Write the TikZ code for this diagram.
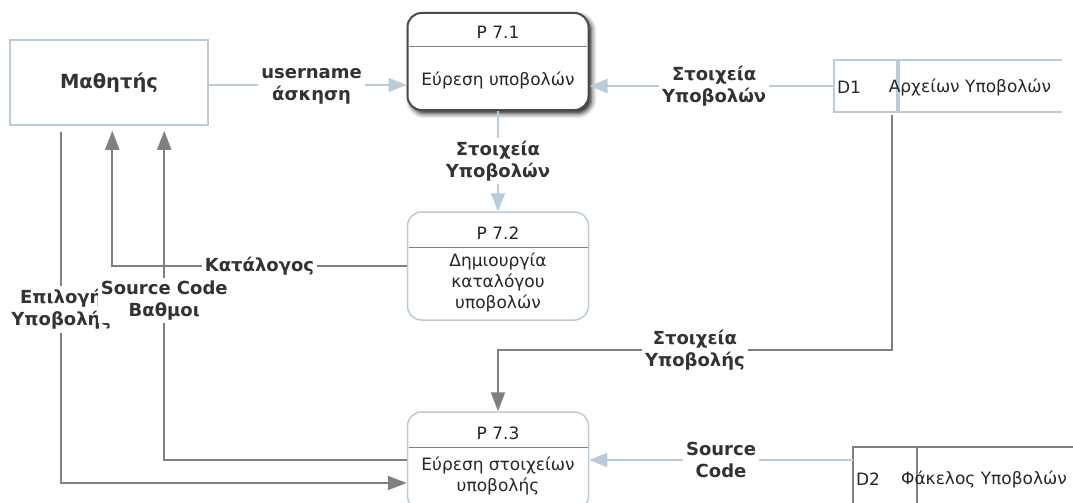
\documentclass[tikz,border=0pt]{standalone}
\usepackage{fontspec}
\setmainfont{DejaVu Sans}
\usetikzlibrary{arrows.meta,shadows.blur}
\definecolor{flowblue}{HTML}{BACBDA}
\definecolor{flowgray}{HTML}{808080}
\definecolor{procdark}{HTML}{4A4A4A}
\definecolor{inkdark}{HTML}{333333}
\begin{document}
\begin{tikzpicture}[x=1pt,y=-1pt,
  every node/.style={text=inkdark},
  plain/.style={font=\fontsize{17}{21}\selectfont, align=center, inner sep=0pt, text=black!85},
  entity/.style={draw=flowblue, line width=1.5pt, minimum width=198pt, minimum height=85pt,
    font=\bfseries\fontsize{19.5}{22}\selectfont},
  procbox/.style={draw=flowblue, line width=1.5pt, rounded corners=14pt, fill=white,
    minimum width=181pt, inner sep=0pt},
  divider/.style={draw=flowgray, line width=1pt},
  lbl/.style={fill=white, font=\bfseries\fontsize{18}{22}\selectfont, align=center, inner sep=3pt},
  bluearrow/.style={draw=flowblue, line width=2pt, -{Triangle[length=18pt,width=14pt]}},
  grayarrow/.style={draw=flowgray, line width=2pt, -{Triangle[length=19pt,width=14pt]}}
]
\useasboundingbox (0,0) rectangle (1073,503);
\clip (0,0) rectangle (1073,503);

% external entity
\node[entity] (m) at (109,82.5) {Μαθητής};

% process P 7.1 (with drop shadow)
\node[procbox, draw=procdark, line width=2pt, minimum height=97pt,
  blur shadow={shadow xshift=3pt, shadow yshift=-3.5pt, shadow blur radius=5pt, shadow opacity=90}]
  (p1) at (498,61.5) {};
\draw[divider] (409,47) -- (587,47);
\node[plain] (p1t) at (498,32) {P 7.1};
\node[plain] (p1b) at (498,80) {Εύρεση υποβολών};

% process P 7.2
\node[procbox, minimum height=108pt] (p2) at (498,266) {};
\draw[divider] (408.5,247) -- (587.5,247);
\node[plain] (p2t) at (498,233) {P 7.2};
\node[plain] (p2b) at (498,282) {Δημιουργία\\καταλόγου\\υποβολών};

% process P 7.3
\node[procbox, minimum height=98pt] (p3) at (498,461) {};
\draw[divider] (408.5,447) -- (587.5,447);
\node[plain] (p3t) at (498,433) {P 7.3};
\node[plain] (p3b) at (498,476) {Εύρεση στοιχείων\\υποβολής};

% data store D1
\node[minimum width=228pt, minimum height=52pt, inner sep=0pt] (d1) at (948,86) {};
\draw[flowblue, line width=1.5pt] (d1.north east) -- (d1.north west) -- (d1.south west) -- (d1.south east);
\draw[flowblue, line width=3.5pt] (898,60) -- (898,112);
\node[plain] (d1id) at (849,87) {D1};
\node[plain] (d1n) at (970,87) {Αρχείων Υποβολών};

% data store D2
\node[minimum width=240pt, minimum height=66pt, inner sep=0pt] (d2) at (973,480) {};
\draw[flowgray, line width=1.5pt] (d2.north east) -- (d2.north west) -- (d2.south west);
\draw[flowgray, line width=1.5pt] (917,447) -- (917,513);
\node[plain] (d2id) at (868,479) {D2};
\node[plain] (d2n) at (984,479) {Φάκελος Υποβολών};

% data flows
\draw[bluearrow] ([yshift=-2.5pt]m.east) -- ([yshift=-2.5pt]m.east -| p1.west)
  node[lbl, pos=0.52, yshift=-1.5pt] {username\\άσκηση};
\draw[bluearrow] (d1.west) -- (d1.west -| p1.east)
  node[lbl, pos=0.49] {Στοιχεία\\Υποβολών};
\draw[bluearrow] (p1.south) -- (p2.north)
  node[lbl, midway] {Στοιχεία\\Υποβολών};
\draw[bluearrow] ([yshift=20pt]d2.west) -- ([yshift=20pt]d2.west -| p3.east)
  node[lbl, midway] {Source\\Code};

\draw[grayarrow] (p2.west) -| ([xshift=103pt,yshift=-5pt]m.south west)
  node[lbl, pos=0.25] {Κατάλογος};
\draw[grayarrow] ([xshift=52pt,yshift=-6pt]m.south west) |- ([yshift=-22pt]p3.west)
  node[lbl, pos=0.253] {Επιλογή\\Υποβολής};
\draw[grayarrow] ([yshift=1.5pt]p3.west) -| ([xshift=155pt,yshift=-5pt]m.south west)
  node[lbl, pos=0.742] {Source Code\\Βαθμοι};
\draw[grayarrow] ([xshift=58pt,yshift=-3pt]d1.south west) |- ([yshift=61pt]p3.north)
  node[lbl, pos=0.75] {Στοιχεία\\Υποβολής} -- (p3.north);
\end{tikzpicture}
\end{document}
